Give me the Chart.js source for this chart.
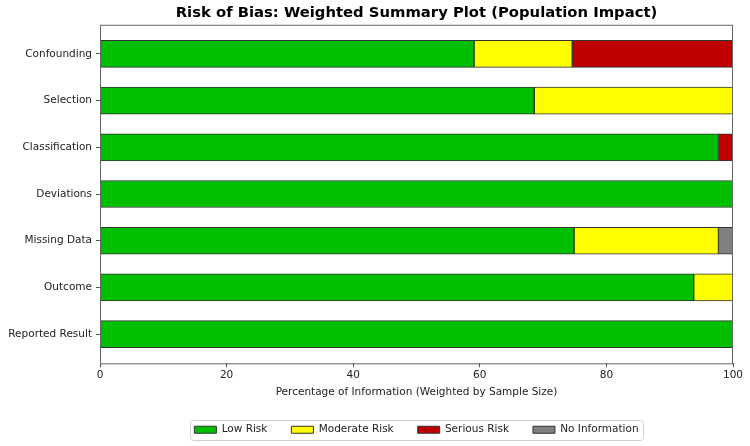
<!DOCTYPE html>
<html lang="en">
<head>
    <meta charset="UTF-8">
    <title>Risk of Bias: Weighted Summary Plot</title>
    <style>
        body {
            margin: 0;
            padding: 0;
            background-color: white;
        }

        #chartContainer {
            width: 750px;
            height: 446px;
        }
    </style>
</head>
<body>
    <div id="chartContainer">
        <canvas id="riskChart"></canvas>
    </div>

    <script src="https://cdn.jsdelivr.net/npm/chart.js"></script>
    <script>
        // Data (percent of weighted information)
        const domains = ['Confounding', 'Selection', 'Classification', 'Deviations', 'Missing Data', 'Outcome', 'Reported Result'];
        const lowRisk = [59.1, 68.6, 97.7, 100, 74.9, 93.8, 100];
        const moderateRisk = [15.5, 31.4, 0, 0, 22.8, 6.2, 0];
        const seriousRisk = [25.4, 0, 2.3, 0, 0, 0, 0];
        const noInformation = [0, 0, 0, 0, 2.3, 0, 0];
        const xTicks = [0, 20, 40, 60, 80, 100];

        const fontFamily = '"DejaVu Sans", sans-serif';

        function toPoints(values) {
            return values.map((v, i) => ({ x: v, y: i }));
        }

        // box around the axes, like matplotlib spines
        const framePlugin = {
            id: 'frame',
            afterDatasetsDraw(chart) {
                const { ctx, chartArea } = chart;
                ctx.save();
                ctx.strokeStyle = '#666';
                ctx.lineWidth = 1;
                ctx.strokeRect(chartArea.left + 0.5, chartArea.top + 0.5,
                    chartArea.right - chartArea.left - 1, chartArea.bottom - chartArea.top);
                ctx.restore();
            }
        };

        // rounded frame around legend items
        const legendFramePlugin = {
            id: 'legendFrame',
            afterDraw(chart) {
                const boxes = chart.legend && chart.legend.legendHitBoxes;
                if (!boxes || !boxes.length) return;
                const left = Math.min(...boxes.map(b => b.left)) - 4;
                const right = Math.max(...boxes.map(b => b.left + b.width)) + 5;
                const mid = boxes[0].top + boxes[0].height / 2;
                const top = mid - 9.5;
                const h = 20;
                const r = 3;
                const ctx = chart.ctx;
                ctx.save();
                ctx.strokeStyle = '#d0d0d0';
                ctx.lineWidth = 1;
                ctx.beginPath();
                ctx.roundRect(Math.round(left) + 0.5, Math.round(top) + 0.5, Math.round(right - left), h, r);
                ctx.stroke();
                ctx.restore();
            }
        };

        const ctx = document.getElementById('riskChart').getContext('2d');
        const chart = new Chart(ctx, {
            type: 'bar',
            data: {
                datasets: [
                    { label: 'Low Risk', data: toPoints(lowRisk), backgroundColor: '#00bf00' },
                    { label: 'Moderate Risk', data: toPoints(moderateRisk), backgroundColor: '#ffff00' },
                    { label: 'Serious Risk', data: toPoints(seriousRisk), backgroundColor: '#bf0000' },
                    { label: 'No Information', data: toPoints(noInformation), backgroundColor: '#808080' }
                ]
            },
            options: {
                indexAxis: 'y',
                responsive: true,
                maintainAspectRatio: false,
                animation: false,
                datasets: {
                    bar: {
                        barThickness: 27,
                        borderColor: '#333',
                        borderWidth: 1,
                        borderSkipped: false
                    }
                },
                layout: {
                    padding: { left: 0, right: 17, top: 0, bottom: 1 }
                },
                scales: {
                    x: {
                        type: 'linear',
                        stacked: true,
                        min: 0,
                        max: 100,
                        afterBuildTicks: scale => {
                            scale.ticks = xTicks.map(v => ({ value: v }));
                        },
                        border: { display: false },
                        grid: {
                            drawOnChartArea: false,
                            drawTicks: true,
                            tickLength: 4,
                            color: '#555'
                        },
                        ticks: {
                            padding: 2,
                            color: '#222',
                            font: { family: fontFamily, size: 10.5 }
                        },
                        title: {
                            display: true,
                            text: 'Percentage of Information (Weighted by Sample Size)',
                            color: '#222',
                            font: { family: fontFamily, size: 10.5 },
                            padding: { top: 2, bottom: 2 }
                        }
                    },
                    y: {
                        type: 'linear',
                        stacked: true,
                        reverse: true,
                        offset: false,
                        min: -0.625,
                        max: 6.625,
                        afterBuildTicks: scale => {
                            scale.ticks = domains.map((d, i) => ({ value: i }));
                        },
                        afterFit: scale => {
                            scale.width = 100;
                        },
                        border: { display: false },
                        grid: {
                            offset: false,
                            drawOnChartArea: false,
                            drawTicks: true,
                            tickLength: 4,
                            color: '#555'
                        },
                        ticks: {
                            padding: 4,
                            color: '#222',
                            font: { family: fontFamily, size: 10.5 },
                            callback: value => domains[value]
                        }
                    }
                },
                plugins: {
                    title: {
                        display: true,
                        fullSize: false,
                        text: 'Risk of Bias: Weighted Summary Plot (Population Impact)',
                        color: '#000',
                        font: { family: fontFamily, size: 14.8, weight: 'bold' },
                        padding: { top: 4, bottom: 3 }
                    },
                    legend: {
                        position: 'bottom',
                        fullSize: false,
                        labels: {
                            boxWidth: 22,
                            boxHeight: 7,
                            padding: 24,
                            color: '#222',
                            font: { family: fontFamily, size: 10.5 }
                        }
                    },
                    tooltip: { enabled: false }
                }
            },
            plugins: [framePlugin, legendFramePlugin]
        });
    </script>
</body>
</html>
